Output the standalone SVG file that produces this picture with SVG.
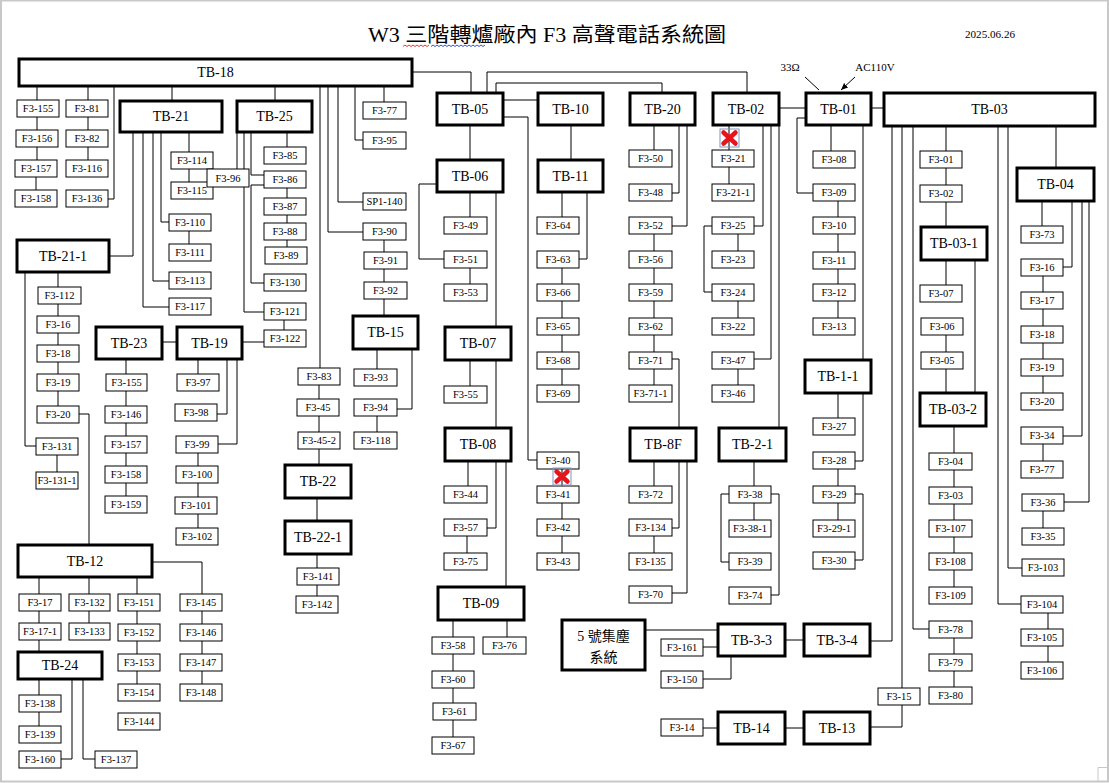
<svg xmlns="http://www.w3.org/2000/svg" width="1109" height="783" viewBox="0 0 1109 783">
<style>
.tb rect{fill:#fff;stroke:#000;stroke-width:3}
.tb text{font-family:"Liberation Serif","Noto Sans CJK TC",serif;font-size:14px;text-anchor:middle;dominant-baseline:central;fill:#000}
.f rect{fill:#fff;stroke:#000;stroke-width:1}
.f text{font-family:"Liberation Serif",serif;font-size:10.5px;text-anchor:middle;dominant-baseline:central;fill:#000}
#connectors path{fill:none;stroke:#000;stroke-width:1}
.lbl{font-family:"Liberation Serif",serif;font-size:11px;fill:#000}
.x line{stroke:#e8141c;stroke-width:4.5;stroke-linecap:round}
</style>
<defs>
<marker id="arr" markerWidth="8" markerHeight="8" refX="7" refY="4" orient="auto" markerUnits="userSpaceOnUse">
<path d="M0,1 L7,4 L0,7 Z" fill="#000"/>
</marker>
</defs>
<rect width="1109" height="783" fill="#fff"/>
<rect x="1" y="0.5" width="1107" height="781" fill="none" stroke="#c8c8c8" stroke-width="2"/>
<path d="M1098,781 V767.5 H1108" fill="none" stroke="#c8c8c8" stroke-width="1"/>

<g id="title">
<text x="547" y="42" font-family="'Liberation Serif','Noto Sans CJK TC',serif" font-size="20" text-anchor="middle" textLength="358" lengthAdjust="spacingAndGlyphs">W3 三階轉爐廠內 F3 高聲電話系統圖</text>
<path d="M403,46.5 l2,-1.5 l2,1.5 l2,-1.5 l2,1.5 l2,-1.5 l2,1.5 l2,-1.5 l2,1.5 l2,-1.5 l2,1.5 l2,-1.5 l2,1.5 l2,-1.5" fill="none" stroke="#e02020" stroke-width="0.9"/>
<path d="M431,46.5 l2,-1.5 l2,1.5 l2,-1.5 l2,1.5 l2,-1.5 l2,1.5 l2,-1.5 l2,1.5 l2,-1.5 l2,1.5 l2,-1.5 l2,1.5 l2,-1.5 l2,1.5 l2,-1.5 l2,1.5 l2,-1.5 l2,1.5 l2,-1.5 l2,1.5 l2,-1.5 l2,1.5 l2,-1.5 l2,1.5 l2,-1.5 l2,1.5 l2,-1.5" fill="none" stroke="#2040d0" stroke-width="0.9"/>
<text x="990" y="38" class="lbl" text-anchor="middle" textLength="50" lengthAdjust="spacingAndGlyphs">2025.06.26</text>
<text x="790" y="71" class="lbl" text-anchor="middle">33Ω</text>
<text x="875" y="71" class="lbl" text-anchor="middle">AC110V</text>
</g>

<g id="connectors">
<path d="M805,77 L819,90 M855,77 L841,90" marker-end="url(#arr)"/>
<path d="M37,87V100 M37,117V130 M37,147V160 M36,177V190 M88,87V100 M88,117V130 M88,147V160 M114,87V199H108 M172,87V100 M275,87V100 M320,87V368 M328,87V232H363 M338,87V202H363 M355,87V140H363 M384,87V102 M384,240V252 M384,269V282 M384,299V315 M413,72H471V92"/>
<path d="M133,133V256H110 M143,133V307H169 M153,133V281H169 M161,133V222H169 M189,133V152 M189,169V182 M189,231V244"/>
<path d="M237,133V169 M244,133V312H264 M251,133V175H264 M264,185H251V283H264 M287,133V147 M287,188V198 M287,215V223 M287,240V247 M284,320V330"/>
<path d="M25,273V446H36 M58,273V287 M58,304V316 M58,333V345 M58,362V374 M58,391V406 M57,455V472 M79,414H89V544"/>
<path d="M163,342H176 M243,342H264 M126,360V374 M126,391V406 M126,423V436 M126,453V466 M126,483V496 M198,360V374 M227,360V414H217 M237,360V444H218 M198,453V466 M198,483V497 M198,514V528"/>
<path d="M319,385V399 M319,416V432 M319,449V464 M317,499V520 M317,555V568 M317,585V596 M377,350V369 M412,350V409H396 M377,416V432"/>
<path d="M153,562H202V594 M39,578V594 M89,578V594 M137,578V594 M39,611V623 M39,640V651 M89,611V623 M137,611V624 M137,641V654 M137,671V684 M202,611V624 M202,641V654 M202,671V684 M39,680V695 M39,712V726 M72,680V759H61 M83,680V759H95"/>
<path d="M487,92V72H747V92 M496,92V83H662V92 M504,100H537 M780,108H805 M872,108H883 M504,117H528V460H537 M470,126V159 M470,193V217 M436,184H419V259H444 M470,268V284 M496,193V326 M470,361V386 M496,361V427 M468,462V486 M496,462V528H486 M506,462V586 M467,536V553 M453,621V637 M507,621V637 M453,654V671 M453,688V703 M453,720V737"/>
<path d="M571,126V159 M562,193V217 M587,193V259H579 M562,268V284 M562,301V318 M562,335V352 M562,369V385 M562,469V486 M562,503V519 M562,536V553"/>
<path d="M654,126V150 M679,126V193H671 M687,126V226H671 M654,234V251 M654,268V284 M654,301V318 M654,335V352 M654,369V385 M671,359H679V427 M654,462V486 M679,462V528H671 M654,536V553 M687,462V593H671"/>
<path d="M729,126V150 M729,167V184 M763,126V226H754 M712,226H704V292H712 M738,234V251 M738,301V318 M771,126V359H754 M738,369V385 M779,126V427 M754,462V486 M754,503V520 M729,494H721V562H729 M771,494H779V595H771"/>
<path d="M831,126V151 M805,118H797V193H813 M838,201V217 M838,234V252 M838,269V284 M838,301V318 M863,126V359 M838,394V418 M863,394V461H855 M838,469V486 M838,503V520 M855,494H863V560H855"/>
<path d="M892,127V641H871 M902,127V688 M902,705V727H871 M913,127V629H929 M946,127V151 M946,168V185 M946,202V226 M946,261V285 M975,261V392 M946,335V352 M946,369V392 M954,427V453 M954,470V487 M954,504V520 M954,537V553 M954,570V587 M954,638V654 M954,671V687 M998,127V604H1021 M1008,127V568H1022 M1056,127V167"/>
<path d="M1042,202V226 M1072,202V267H1063 M1043,276V292 M1043,309V326 M1043,343V359 M1043,376V393 M1082,202V436H1063 M1043,444V461 M1089,202V502H1064 M1043,511V528 M1048,613V629 M1048,646V662"/>
<path d="M646,630H717 M703,647H717 M731,657V679H703 M786,640H803 M703,728H717 M786,728H803"/>
</g>

<g id="TB-18" class="tb"><rect x="19" y="59" width="393" height="27"/><text x="215.5" y="72.5">TB-18</text></g>
<g id="TB-21" class="tb"><rect x="120" y="101" width="102" height="31"/><text x="171" y="116.5">TB-21</text></g>
<g id="TB-25" class="tb"><rect x="237" y="101" width="75" height="31"/><text x="274.5" y="116.5">TB-25</text></g>
<g id="TB-21-1" class="tb"><rect x="17" y="240" width="92" height="32"/><text x="63" y="256">TB-21-1</text></g>
<g id="TB-23" class="tb"><rect x="96" y="327" width="66" height="32"/><text x="129" y="343">TB-23</text></g>
<g id="TB-19" class="tb"><rect x="177" y="327" width="65" height="32"/><text x="209.5" y="343">TB-19</text></g>
<g id="TB-15" class="tb"><rect x="353" y="316" width="65" height="33"/><text x="385.5" y="332.5">TB-15</text></g>
<g id="TB-22" class="tb"><rect x="285" y="465" width="66" height="33"/><text x="318" y="481.5">TB-22</text></g>
<g id="TB-22-1" class="tb"><rect x="285" y="521" width="66" height="33"/><text x="318" y="537.5">TB-22-1</text></g>
<g id="TB-12" class="tb"><rect x="18" y="545" width="134" height="32"/><text x="85" y="561">TB-12</text></g>
<g id="TB-24" class="tb"><rect x="18" y="652" width="84" height="27"/><text x="60" y="665.5">TB-24</text></g>
<g id="TB-05" class="tb"><rect x="437" y="93" width="66" height="32"/><text x="470" y="109">TB-05</text></g>
<g id="TB-10" class="tb"><rect x="538" y="93" width="65" height="32"/><text x="570.5" y="109">TB-10</text></g>
<g id="TB-20" class="tb"><rect x="630" y="93" width="65" height="32"/><text x="662.5" y="109">TB-20</text></g>
<g id="TB-02" class="tb"><rect x="713" y="93" width="66" height="32"/><text x="746" y="109">TB-02</text></g>
<g id="TB-01" class="tb"><rect x="806" y="93" width="65" height="32"/><text x="838.5" y="109">TB-01</text></g>
<g id="TB-03" class="tb"><rect x="884" y="93" width="211" height="33"/><text x="989.5" y="109.5">TB-03</text></g>
<g id="TB-06" class="tb"><rect x="437" y="160" width="66" height="32"/><text x="470" y="176">TB-06</text></g>
<g id="TB-11" class="tb"><rect x="538" y="160" width="65" height="32"/><text x="570.5" y="176">TB-11</text></g>
<g id="TB-07" class="tb"><rect x="445" y="327" width="66" height="33"/><text x="478" y="343.5">TB-07</text></g>
<g id="TB-08" class="tb"><rect x="445" y="428" width="66" height="33"/><text x="478" y="444.5">TB-08</text></g>
<g id="TB-09" class="tb"><rect x="438" y="587" width="86" height="33"/><text x="481" y="603.5">TB-09</text></g>
<g id="TB-8F" class="tb"><rect x="630" y="428" width="66" height="33"/><text x="663" y="444.5">TB-8F</text></g>
<g id="TB-2-1" class="tb"><rect x="719" y="428" width="67" height="33"/><text x="752.5" y="444.5">TB-2-1</text></g>
<g id="TB-1-1" class="tb"><rect x="805" y="360" width="66" height="33"/><text x="838" y="376.5">TB-1-1</text></g>
<g id="TB-03-1" class="tb"><rect x="921" y="227" width="66" height="33"/><text x="954" y="243.5">TB-03-1</text></g>
<g id="TB-03-2" class="tb"><rect x="920" y="393" width="66" height="33"/><text x="953" y="409.5">TB-03-2</text></g>
<g id="TB-04" class="tb"><rect x="1017" y="168" width="77" height="33"/><text x="1055.5" y="184.5">TB-04</text></g>
<g id="TB-3-3" class="tb"><rect x="718" y="624" width="67" height="32"/><text x="751.5" y="640">TB-3-3</text></g>
<g id="TB-3-4" class="tb"><rect x="804" y="624" width="66" height="32"/><text x="837" y="640">TB-3-4</text></g>
<g id="TB-14" class="tb"><rect x="718" y="712" width="67" height="32"/><text x="751.5" y="728">TB-14</text></g>
<g id="TB-13" class="tb"><rect x="804" y="712" width="66" height="32"/><text x="837" y="728">TB-13</text></g>
<g id="DUST-5" class="tb"><rect x="562" y="620" width="83" height="50"/><text x="603.5" y="636" font-size="15">5 號集塵</text><text x="603.5" y="657" font-size="15">系統</text></g>

<g id="F3-155-a" class="f"><rect x="17" y="100" width="42" height="17"/><text x="38" y="108.5">F3-155</text></g>
<g id="F3-156" class="f"><rect x="16" y="130" width="42" height="17"/><text x="37" y="138.5">F3-156</text></g>
<g id="F3-157-a" class="f"><rect x="15" y="160" width="42" height="17"/><text x="36" y="168.5">F3-157</text></g>
<g id="F3-158-a" class="f"><rect x="15" y="190" width="42" height="17"/><text x="36" y="198.5">F3-158</text></g>
<g id="F3-81" class="f"><rect x="66" y="100" width="42" height="17"/><text x="87" y="108.5">F3-81</text></g>
<g id="F3-82" class="f"><rect x="66" y="130" width="42" height="17"/><text x="87" y="138.5">F3-82</text></g>
<g id="F3-116" class="f"><rect x="66" y="160" width="42" height="17"/><text x="87" y="168.5">F3-116</text></g>
<g id="F3-136" class="f"><rect x="66" y="190" width="42" height="17"/><text x="87" y="198.5">F3-136</text></g>
<g id="F3-114" class="f"><rect x="171" y="152" width="42" height="17"/><text x="192" y="160.5">F3-114</text></g>
<g id="F3-115" class="f"><rect x="171" y="182" width="42" height="17"/><text x="192" y="190.5">F3-115</text></g>
<g id="F3-96" class="f"><rect x="207" y="169" width="42" height="18"/><text x="228" y="178">F3-96</text></g>
<g id="F3-110" class="f"><rect x="169" y="214" width="42" height="17"/><text x="190" y="222.5">F3-110</text></g>
<g id="F3-111" class="f"><rect x="169" y="244" width="42" height="17"/><text x="190" y="252.5">F3-111</text></g>
<g id="F3-113" class="f"><rect x="169" y="272" width="42" height="17"/><text x="190" y="280.5">F3-113</text></g>
<g id="F3-117" class="f"><rect x="169" y="298" width="42" height="17"/><text x="190" y="306.5">F3-117</text></g>
<g id="F3-85" class="f"><rect x="264" y="147" width="42" height="17"/><text x="285" y="155.5">F3-85</text></g>
<g id="F3-86" class="f"><rect x="264" y="171" width="42" height="17"/><text x="285" y="179.5">F3-86</text></g>
<g id="F3-87" class="f"><rect x="264" y="198" width="42" height="17"/><text x="285" y="206.5">F3-87</text></g>
<g id="F3-88" class="f"><rect x="264" y="223" width="42" height="17"/><text x="285" y="231.5">F3-88</text></g>
<g id="F3-89" class="f"><rect x="265" y="247" width="42" height="17"/><text x="286" y="255.5">F3-89</text></g>
<g id="F3-130" class="f"><rect x="264" y="274" width="42" height="17"/><text x="285" y="282.5">F3-130</text></g>
<g id="F3-121" class="f"><rect x="264" y="303" width="42" height="17"/><text x="285" y="311.5">F3-121</text></g>
<g id="F3-122" class="f"><rect x="264" y="330" width="42" height="17"/><text x="285" y="338.5">F3-122</text></g>
<g id="F3-77-a" class="f"><rect x="363" y="102" width="43" height="17"/><text x="384.5" y="110.5">F3-77</text></g>
<g id="F3-95" class="f"><rect x="363" y="132" width="43" height="17"/><text x="384.5" y="140.5">F3-95</text></g>
<g id="SP1-140" class="f"><rect x="363" y="193" width="43" height="17"/><text x="384.5" y="201.5">SP1-140</text></g>
<g id="F3-90" class="f"><rect x="363" y="223" width="43" height="17"/><text x="384.5" y="231.5">F3-90</text></g>
<g id="F3-91" class="f"><rect x="364" y="252" width="43" height="17"/><text x="385.5" y="260.5">F3-91</text></g>
<g id="F3-92" class="f"><rect x="364" y="282" width="43" height="17"/><text x="385.5" y="290.5">F3-92</text></g>
<g id="F3-93" class="f"><rect x="354" y="369" width="43" height="17"/><text x="375.5" y="377.5">F3-93</text></g>
<g id="F3-94" class="f"><rect x="354" y="399" width="43" height="17"/><text x="375.5" y="407.5">F3-94</text></g>
<g id="F3-118" class="f"><rect x="354" y="432" width="43" height="17"/><text x="375.5" y="440.5">F3-118</text></g>
<g id="F3-83" class="f"><rect x="298" y="368" width="42" height="17"/><text x="319" y="376.5">F3-83</text></g>
<g id="F3-45" class="f"><rect x="297" y="399" width="42" height="17"/><text x="318" y="407.5">F3-45</text></g>
<g id="F3-45-2" class="f"><rect x="298" y="432" width="42" height="17"/><text x="319" y="440.5">F3-45-2</text></g>
<g id="F3-141" class="f"><rect x="297" y="568" width="42" height="17"/><text x="318" y="576.5">F3-141</text></g>
<g id="F3-142" class="f"><rect x="296" y="596" width="42" height="17"/><text x="317" y="604.5">F3-142</text></g>
<g id="F3-112" class="f"><rect x="38" y="287" width="43" height="17"/><text x="59.5" y="295.5">F3-112</text></g>
<g id="F3-16-a" class="f"><rect x="37" y="316" width="42" height="17"/><text x="58" y="324.5">F3-16</text></g>
<g id="F3-18-a" class="f"><rect x="37" y="345" width="42" height="17"/><text x="58" y="353.5">F3-18</text></g>
<g id="F3-19-a" class="f"><rect x="37" y="374" width="42" height="17"/><text x="58" y="382.5">F3-19</text></g>
<g id="F3-20-a" class="f"><rect x="37" y="406" width="42" height="17"/><text x="58" y="414.5">F3-20</text></g>
<g id="F3-131" class="f"><rect x="36" y="438" width="42" height="17"/><text x="57" y="446.5">F3-131</text></g>
<g id="F3-131-1" class="f"><rect x="36" y="472" width="42" height="17"/><text x="57" y="480.5">F3-131-1</text></g>
<g id="F3-155-b" class="f"><rect x="106" y="374" width="41" height="17"/><text x="126.5" y="382.5">F3-155</text></g>
<g id="F3-146-b" class="f"><rect x="105" y="406" width="42" height="17"/><text x="126" y="414.5">F3-146</text></g>
<g id="F3-157-b" class="f"><rect x="105" y="436" width="42" height="17"/><text x="126" y="444.5">F3-157</text></g>
<g id="F3-158-b" class="f"><rect x="105" y="466" width="42" height="17"/><text x="126" y="474.5">F3-158</text></g>
<g id="F3-159" class="f"><rect x="105" y="496" width="42" height="17"/><text x="126" y="504.5">F3-159</text></g>
<g id="F3-97" class="f"><rect x="177" y="374" width="42" height="17"/><text x="198" y="382.5">F3-97</text></g>
<g id="F3-98" class="f"><rect x="175" y="404" width="42" height="17"/><text x="196" y="412.5">F3-98</text></g>
<g id="F3-99" class="f"><rect x="176" y="436" width="42" height="17"/><text x="197" y="444.5">F3-99</text></g>
<g id="F3-100" class="f"><rect x="176" y="466" width="42" height="17"/><text x="197" y="474.5">F3-100</text></g>
<g id="F3-101" class="f"><rect x="175" y="497" width="42" height="17"/><text x="196" y="505.5">F3-101</text></g>
<g id="F3-102" class="f"><rect x="176" y="528" width="42" height="17"/><text x="197" y="536.5">F3-102</text></g>
<g id="F3-17-a" class="f"><rect x="19" y="594" width="42" height="17"/><text x="40" y="602.5">F3-17</text></g>
<g id="F3-17-1" class="f"><rect x="19" y="623" width="42" height="17"/><text x="40" y="631.5">F3-17-1</text></g>
<g id="F3-132" class="f"><rect x="69" y="594" width="41" height="17"/><text x="89.5" y="602.5">F3-132</text></g>
<g id="F3-133" class="f"><rect x="69" y="623" width="41" height="17"/><text x="89.5" y="631.5">F3-133</text></g>
<g id="F3-151" class="f"><rect x="118" y="594" width="42" height="17"/><text x="139" y="602.5">F3-151</text></g>
<g id="F3-152" class="f"><rect x="118" y="624" width="42" height="17"/><text x="139" y="632.5">F3-152</text></g>
<g id="F3-153" class="f"><rect x="118" y="654" width="42" height="17"/><text x="139" y="662.5">F3-153</text></g>
<g id="F3-154" class="f"><rect x="118" y="684" width="42" height="17"/><text x="139" y="692.5">F3-154</text></g>
<g id="F3-144" class="f"><rect x="118" y="713" width="42" height="17"/><text x="139" y="721.5">F3-144</text></g>
<g id="F3-145" class="f"><rect x="180" y="594" width="42" height="17"/><text x="201" y="602.5">F3-145</text></g>
<g id="F3-146-c" class="f"><rect x="180" y="624" width="42" height="17"/><text x="201" y="632.5">F3-146</text></g>
<g id="F3-147" class="f"><rect x="180" y="654" width="42" height="17"/><text x="201" y="662.5">F3-147</text></g>
<g id="F3-148" class="f"><rect x="180" y="684" width="42" height="17"/><text x="201" y="692.5">F3-148</text></g>
<g id="F3-138" class="f"><rect x="19" y="695" width="42" height="17"/><text x="40" y="703.5">F3-138</text></g>
<g id="F3-139" class="f"><rect x="19" y="726" width="42" height="17"/><text x="40" y="734.5">F3-139</text></g>
<g id="F3-160" class="f"><rect x="19" y="751" width="42" height="17"/><text x="40" y="759.5">F3-160</text></g>
<g id="F3-137" class="f"><rect x="95" y="751" width="42" height="17"/><text x="116" y="759.5">F3-137</text></g>
<g id="F3-49" class="f"><rect x="444" y="217" width="43" height="17"/><text x="465.5" y="225.5">F3-49</text></g>
<g id="F3-51" class="f"><rect x="444" y="251" width="43" height="17"/><text x="465.5" y="259.5">F3-51</text></g>
<g id="F3-53" class="f"><rect x="444" y="284" width="43" height="17"/><text x="465.5" y="292.5">F3-53</text></g>
<g id="F3-55" class="f"><rect x="444" y="386" width="43" height="17"/><text x="465.5" y="394.5">F3-55</text></g>
<g id="F3-44" class="f"><rect x="444" y="486" width="43" height="17"/><text x="465.5" y="494.5">F3-44</text></g>
<g id="F3-57" class="f"><rect x="444" y="519" width="43" height="17"/><text x="465.5" y="527.5">F3-57</text></g>
<g id="F3-75" class="f"><rect x="444" y="553" width="43" height="17"/><text x="465.5" y="561.5">F3-75</text></g>
<g id="F3-58" class="f"><rect x="432" y="637" width="42" height="17"/><text x="453" y="645.5">F3-58</text></g>
<g id="F3-76" class="f"><rect x="483" y="637" width="43" height="17"/><text x="504.5" y="645.5">F3-76</text></g>
<g id="F3-60" class="f"><rect x="432" y="671" width="42" height="17"/><text x="453" y="679.5">F3-60</text></g>
<g id="F3-61" class="f"><rect x="433" y="703" width="43" height="17"/><text x="454.5" y="711.5">F3-61</text></g>
<g id="F3-67" class="f"><rect x="432" y="737" width="42" height="17"/><text x="453" y="745.5">F3-67</text></g>
<g id="F3-64" class="f"><rect x="537" y="217" width="42" height="17"/><text x="558" y="225.5">F3-64</text></g>
<g id="F3-63" class="f"><rect x="537" y="251" width="42" height="17"/><text x="558" y="259.5">F3-63</text></g>
<g id="F3-66" class="f"><rect x="537" y="284" width="42" height="17"/><text x="558" y="292.5">F3-66</text></g>
<g id="F3-65" class="f"><rect x="537" y="318" width="42" height="17"/><text x="558" y="326.5">F3-65</text></g>
<g id="F3-68" class="f"><rect x="537" y="352" width="42" height="17"/><text x="558" y="360.5">F3-68</text></g>
<g id="F3-69" class="f"><rect x="537" y="385" width="42" height="17"/><text x="558" y="393.5">F3-69</text></g>
<g id="F3-40" class="f"><rect x="537" y="452" width="42" height="17"/><text x="558" y="460.5">F3-40</text></g>
<g id="F3-41" class="f"><rect x="537" y="486" width="42" height="17"/><text x="558" y="494.5">F3-41</text></g>
<g id="F3-42" class="f"><rect x="537" y="519" width="42" height="17"/><text x="558" y="527.5">F3-42</text></g>
<g id="F3-43" class="f"><rect x="537" y="553" width="42" height="17"/><text x="558" y="561.5">F3-43</text></g>
<g id="F3-50" class="f"><rect x="629" y="150" width="43" height="17"/><text x="650.5" y="158.5">F3-50</text></g>
<g id="F3-48" class="f"><rect x="629" y="184" width="43" height="17"/><text x="650.5" y="192.5">F3-48</text></g>
<g id="F3-52" class="f"><rect x="629" y="217" width="43" height="17"/><text x="650.5" y="225.5">F3-52</text></g>
<g id="F3-56" class="f"><rect x="629" y="251" width="43" height="17"/><text x="650.5" y="259.5">F3-56</text></g>
<g id="F3-59" class="f"><rect x="629" y="284" width="43" height="17"/><text x="650.5" y="292.5">F3-59</text></g>
<g id="F3-62" class="f"><rect x="629" y="318" width="43" height="17"/><text x="650.5" y="326.5">F3-62</text></g>
<g id="F3-71" class="f"><rect x="629" y="352" width="43" height="17"/><text x="650.5" y="360.5">F3-71</text></g>
<g id="F3-71-1" class="f"><rect x="629" y="385" width="43" height="17"/><text x="650.5" y="393.5">F3-71-1</text></g>
<g id="F3-72" class="f"><rect x="629" y="486" width="43" height="17"/><text x="650.5" y="494.5">F3-72</text></g>
<g id="F3-134" class="f"><rect x="629" y="519" width="43" height="17"/><text x="650.5" y="527.5">F3-134</text></g>
<g id="F3-135" class="f"><rect x="629" y="553" width="43" height="17"/><text x="650.5" y="561.5">F3-135</text></g>
<g id="F3-70" class="f"><rect x="629" y="586" width="43" height="17"/><text x="650.5" y="594.5">F3-70</text></g>
<g id="F3-21" class="f"><rect x="712" y="150" width="42" height="17"/><text x="733" y="158.5">F3-21</text></g>
<g id="F3-21-1" class="f"><rect x="712" y="184" width="42" height="17"/><text x="733" y="192.5">F3-21-1</text></g>
<g id="F3-25" class="f"><rect x="712" y="217" width="42" height="17"/><text x="733" y="225.5">F3-25</text></g>
<g id="F3-23" class="f"><rect x="712" y="251" width="42" height="17"/><text x="733" y="259.5">F3-23</text></g>
<g id="F3-24" class="f"><rect x="712" y="284" width="42" height="17"/><text x="733" y="292.5">F3-24</text></g>
<g id="F3-22" class="f"><rect x="712" y="318" width="42" height="17"/><text x="733" y="326.5">F3-22</text></g>
<g id="F3-47" class="f"><rect x="712" y="352" width="42" height="17"/><text x="733" y="360.5">F3-47</text></g>
<g id="F3-46" class="f"><rect x="712" y="385" width="42" height="17"/><text x="733" y="393.5">F3-46</text></g>
<g id="F3-38" class="f"><rect x="729" y="486" width="42" height="17"/><text x="750" y="494.5">F3-38</text></g>
<g id="F3-38-1" class="f"><rect x="729" y="520" width="42" height="17"/><text x="750" y="528.5">F3-38-1</text></g>
<g id="F3-39" class="f"><rect x="729" y="553" width="42" height="17"/><text x="750" y="561.5">F3-39</text></g>
<g id="F3-74" class="f"><rect x="729" y="587" width="42" height="17"/><text x="750" y="595.5">F3-74</text></g>
<g id="F3-161" class="f"><rect x="661" y="639" width="42" height="17"/><text x="682" y="647.5">F3-161</text></g>
<g id="F3-150" class="f"><rect x="661" y="671" width="42" height="17"/><text x="682" y="679.5">F3-150</text></g>
<g id="F3-14" class="f"><rect x="661" y="719" width="42" height="17"/><text x="682" y="727.5">F3-14</text></g>
<g id="F3-08" class="f"><rect x="813" y="151" width="42" height="17"/><text x="834" y="159.5">F3-08</text></g>
<g id="F3-09" class="f"><rect x="813" y="184" width="42" height="17"/><text x="834" y="192.5">F3-09</text></g>
<g id="F3-10" class="f"><rect x="813" y="217" width="42" height="17"/><text x="834" y="225.5">F3-10</text></g>
<g id="F3-11" class="f"><rect x="813" y="252" width="42" height="17"/><text x="834" y="260.5">F3-11</text></g>
<g id="F3-12" class="f"><rect x="813" y="284" width="42" height="17"/><text x="834" y="292.5">F3-12</text></g>
<g id="F3-13" class="f"><rect x="813" y="318" width="42" height="17"/><text x="834" y="326.5">F3-13</text></g>
<g id="F3-27" class="f"><rect x="813" y="418" width="42" height="17"/><text x="834" y="426.5">F3-27</text></g>
<g id="F3-28" class="f"><rect x="813" y="452" width="42" height="17"/><text x="834" y="460.5">F3-28</text></g>
<g id="F3-29" class="f"><rect x="813" y="486" width="42" height="17"/><text x="834" y="494.5">F3-29</text></g>
<g id="F3-29-1" class="f"><rect x="813" y="520" width="42" height="17"/><text x="834" y="528.5">F3-29-1</text></g>
<g id="F3-30" class="f"><rect x="813" y="552" width="42" height="17"/><text x="834" y="560.5">F3-30</text></g>
<g id="F3-01" class="f"><rect x="920" y="151" width="42" height="17"/><text x="941" y="159.5">F3-01</text></g>
<g id="F3-02" class="f"><rect x="920" y="185" width="42" height="17"/><text x="941" y="193.5">F3-02</text></g>
<g id="F3-07" class="f"><rect x="920" y="285" width="42" height="17"/><text x="941" y="293.5">F3-07</text></g>
<g id="F3-06" class="f"><rect x="921" y="318" width="42" height="17"/><text x="942" y="326.5">F3-06</text></g>
<g id="F3-05" class="f"><rect x="921" y="352" width="42" height="17"/><text x="942" y="360.5">F3-05</text></g>
<g id="F3-04" class="f"><rect x="929" y="453" width="43" height="17"/><text x="950.5" y="461.5">F3-04</text></g>
<g id="F3-03" class="f"><rect x="929" y="487" width="43" height="17"/><text x="950.5" y="495.5">F3-03</text></g>
<g id="F3-107" class="f"><rect x="929" y="520" width="43" height="17"/><text x="950.5" y="528.5">F3-107</text></g>
<g id="F3-108" class="f"><rect x="929" y="553" width="43" height="17"/><text x="950.5" y="561.5">F3-108</text></g>
<g id="F3-109" class="f"><rect x="929" y="587" width="43" height="17"/><text x="950.5" y="595.5">F3-109</text></g>
<g id="F3-78" class="f"><rect x="929" y="621" width="43" height="17"/><text x="950.5" y="629.5">F3-78</text></g>
<g id="F3-79" class="f"><rect x="929" y="654" width="43" height="17"/><text x="950.5" y="662.5">F3-79</text></g>
<g id="F3-80" class="f"><rect x="929" y="687" width="43" height="17"/><text x="950.5" y="695.5">F3-80</text></g>
<g id="F3-15" class="f"><rect x="878" y="688" width="42" height="17"/><text x="899" y="696.5">F3-15</text></g>
<g id="F3-73" class="f"><rect x="1021" y="226" width="42" height="17"/><text x="1042" y="234.5">F3-73</text></g>
<g id="F3-16-b" class="f"><rect x="1021" y="259" width="42" height="17"/><text x="1042" y="267.5">F3-16</text></g>
<g id="F3-17-b" class="f"><rect x="1021" y="292" width="42" height="17"/><text x="1042" y="300.5">F3-17</text></g>
<g id="F3-18-b" class="f"><rect x="1021" y="326" width="42" height="17"/><text x="1042" y="334.5">F3-18</text></g>
<g id="F3-19-b" class="f"><rect x="1021" y="359" width="42" height="17"/><text x="1042" y="367.5">F3-19</text></g>
<g id="F3-20-b" class="f"><rect x="1021" y="393" width="42" height="17"/><text x="1042" y="401.5">F3-20</text></g>
<g id="F3-34" class="f"><rect x="1021" y="427" width="42" height="17"/><text x="1042" y="435.5">F3-34</text></g>
<g id="F3-77-b" class="f"><rect x="1021" y="461" width="42" height="17"/><text x="1042" y="469.5">F3-77</text></g>
<g id="F3-36" class="f"><rect x="1022" y="494" width="42" height="17"/><text x="1043" y="502.5">F3-36</text></g>
<g id="F3-35" class="f"><rect x="1022" y="528" width="42" height="17"/><text x="1043" y="536.5">F3-35</text></g>
<g id="F3-103" class="f"><rect x="1022" y="559" width="42" height="17"/><text x="1043" y="567.5">F3-103</text></g>
<g id="F3-104" class="f"><rect x="1021" y="596" width="42" height="17"/><text x="1042" y="604.5">F3-104</text></g>
<g id="F3-105" class="f"><rect x="1021" y="629" width="42" height="17"/><text x="1042" y="637.5">F3-105</text></g>
<g id="F3-106" class="f"><rect x="1021" y="662" width="42" height="17"/><text x="1042" y="670.5">F3-106</text></g>

<g id="cut-1" class="x"><rect x="720" y="129" width="19" height="18" fill="none" stroke="#7f95c0" stroke-width="1"/><line x1="723.5" y1="132.5" x2="735.5" y2="143.5"/><line x1="735.5" y1="132.5" x2="723.5" y2="143.5"/></g>
<g id="cut-2" class="x"><rect x="553" y="468" width="18" height="17" fill="none" stroke="#7f95c0" stroke-width="1"/><line x1="556.5" y1="471.5" x2="567.5" y2="481.5"/><line x1="567.5" y1="471.5" x2="556.5" y2="481.5"/></g>
</svg>
